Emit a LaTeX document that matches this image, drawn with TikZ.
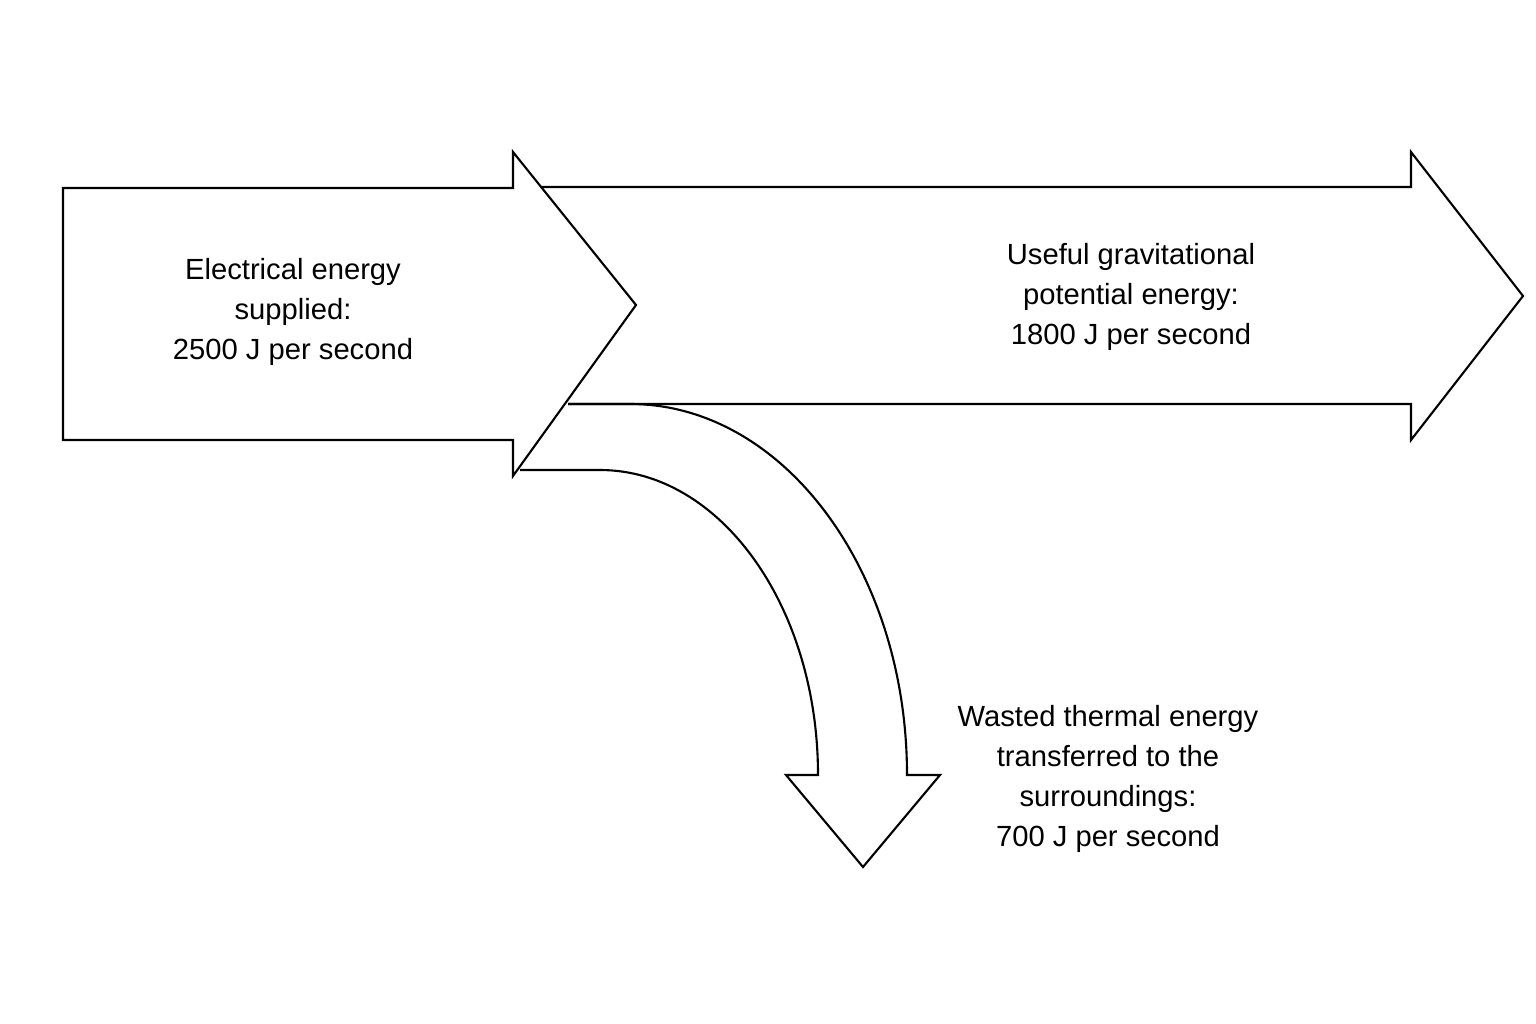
\documentclass[tikz,border=0pt]{standalone}
\usepackage{fontspec}
\setmainfont{Liberation Sans}
\begin{document}
\begin{tikzpicture}[x=0.01cm,y=-0.01cm,line width=0.6pt,
  lbl/.style={align=center,font=\fontsize{8.3}{11.4}\selectfont}]

\useasboundingbox (0,0) rectangle (1536,1024);

% input arrow
\draw (63,188) -- (513,188) -- (513,152) -- (636,305) -- (513,476)
  -- (513,440) -- (63,440) -- cycle;
\node[lbl] (input) at (293,312) {Electrical energy\\supplied:\\2500 J per second};

% useful arrow
\draw (540,187) -- (1411,187) -- (1411,152) -- (1523,296) -- (1411,440)
  -- (1411,404) -- (568,404);
\node[lbl] (useful) at (1131,297) {Useful gravitational\\potential energy:\\1800 J per second};

% wasted arrow
\draw (568,404) -- (630,404) arc[start angle=-90,end angle=0,x radius=277,y radius=371]
  -- (940,775) -- (863,867) -- (786,775) -- (818,775)
  arc[start angle=0,end angle=-90,x radius=218,y radius=305] -- (520,470);
\node[lbl] (wasted) at (1108,779) {Wasted thermal energy\\transferred to the\\surroundings:\\700 J per second};

\end{tikzpicture}
\end{document}
